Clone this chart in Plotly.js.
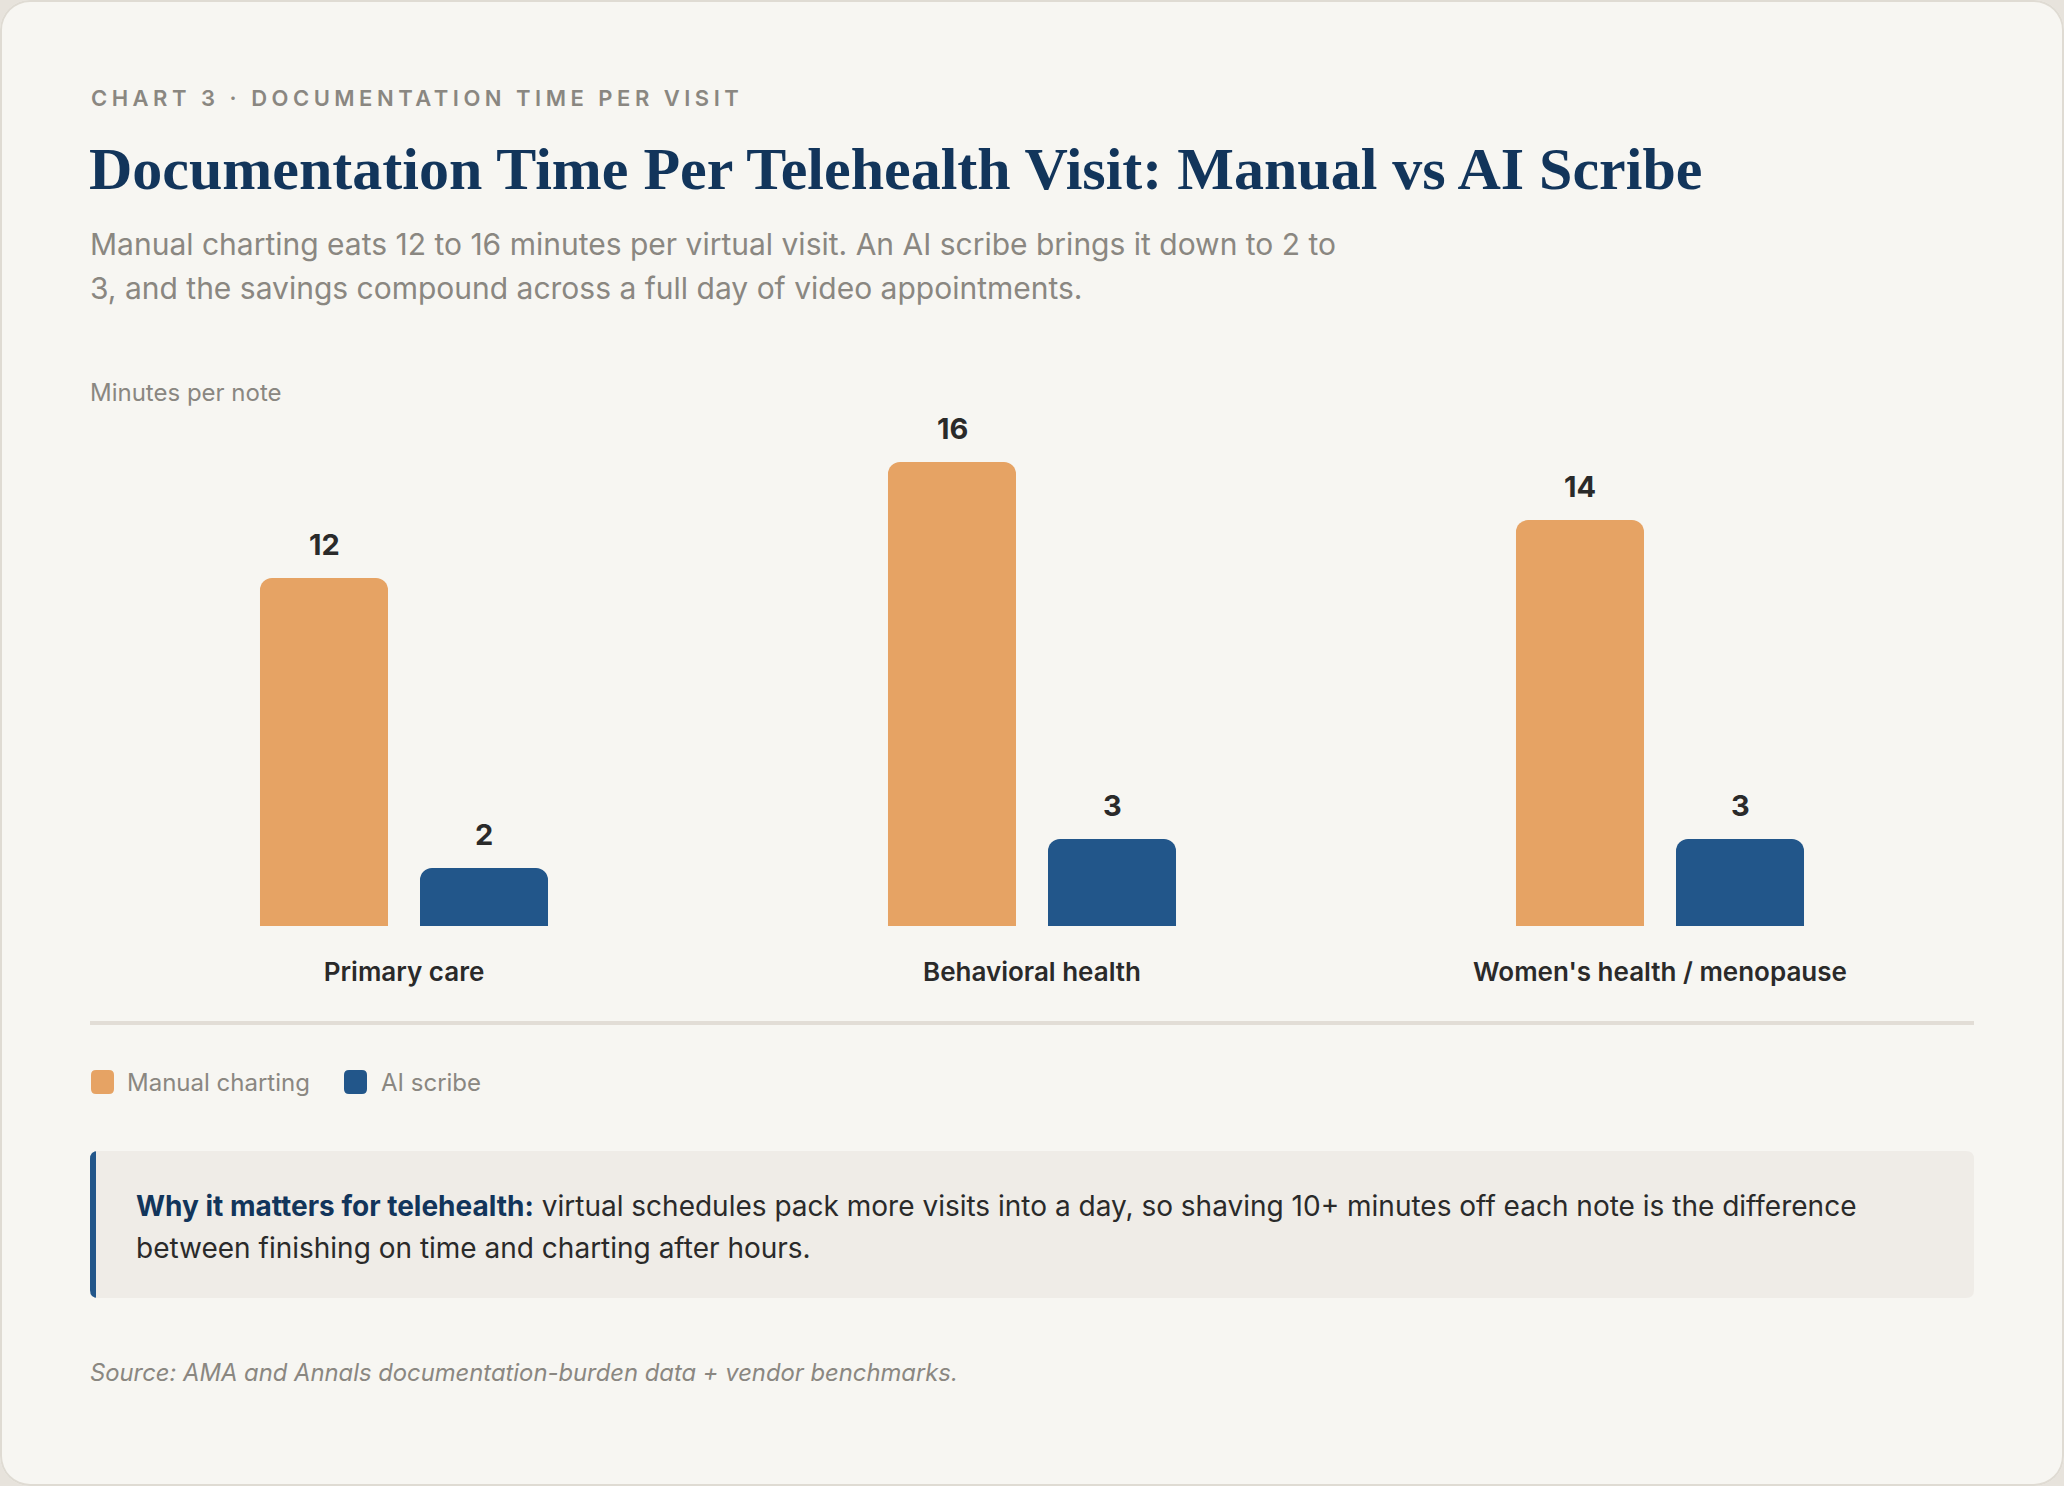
<!DOCTYPE html>
<html>
<head>
<meta charset="utf-8">
<script src="https://cdn.plot.ly/plotly-3.0.1.min.js"></script>
<style>
  html, body { margin: 0; padding: 0; background: #e7e3dc; }
  #chart {
    width: 2064px; height: 1486px;
    border-radius: 30px;
    background: #f7f6f2;
    box-shadow: inset 0 0 0 2px #dfdbd3;
    overflow: hidden;
  }
  /* tracked-out eyebrow line */
  g.annotation[data-index="0"] text { letter-spacing: 4.5px; }
</style>
</head>
<body>
<div id="chart"></div>
<script>
// Documentation minutes per telehealth note, by specialty
const categories = ['Primary care', 'Behavioral health', "Women's health / menopause"];
const manualMinutes = [12, 16, 14];
const aiScribeMinutes = [2, 3, 3];
const seriesNames = ['Manual charting', 'AI scribe'];

const COLORS = { manual: '#e6a364', ai: '#22568a', navy: '#12355b', ink: '#2a2a2a', muted: '#8a8781' };
const SANS = 'Inter, "Noto Sans", sans-serif';

// plot-area geometry (pixels) used to place surrounding text and panels
const PL = 90, PW = 1884, PT = 404, PH = 522;
const fx = p => (p - PL) / PW;
const fy = p => (PT + PH - p) / PH;

// rounded rectangle in paper coordinates from pixel corners and radii
function roundRect(x0, y0, x1, y1, tl, tr, br, bl) {
  const P = (x, y) => fx(x) + ',' + fy(y);
  return 'M' + P(x0 + tl, y0) +
    ' L' + P(x1 - tr, y0) + ' Q' + P(x1, y0) + ' ' + P(x1, y0 + tr) +
    ' L' + P(x1, y1 - br) + ' Q' + P(x1, y1) + ' ' + P(x1 - br, y1) +
    ' L' + P(x0 + bl, y1) + ' Q' + P(x0, y1) + ' ' + P(x0, y1 - bl) +
    ' L' + P(x0, y0 + tl) + ' Q' + P(x0, y0) + ' ' + P(x0 + tl, y0) + ' Z';
}

const traces = [
  {
    type: 'bar', name: seriesNames[0], x: categories, y: manualMinutes,
    marker: { color: COLORS.manual, cornerradius: 12 },
    hoverinfo: 'x+y', showlegend: false
  },
  {
    type: 'bar', name: seriesNames[1], x: categories, y: aiScribeMinutes,
    marker: { color: COLORS.ai, cornerradius: 12 },
    hoverinfo: 'x+y', showlegend: false
  }
];

const txt = (text, xpx, ypx, size, color, extra) => Object.assign({
  text: text, xref: 'paper', yref: 'paper', x: fx(xpx), y: fy(ypx),
  xanchor: 'left', yanchor: 'middle', showarrow: false, align: 'left',
  font: { family: SANS, size: size, color: color }
}, extra || {});

const annotations = [
  txt('CHART 3 · DOCUMENTATION TIME PER VISIT', 89, 98, 22, COLORS.muted,
      { font: { family: SANS, size: 22, color: COLORS.muted, weight: 600 } }),
  txt('Manual charting eats 12 to 16 minutes per virtual visit. An AI scribe brings it down to 2 to', 88, 244, 30, COLORS.muted),
  txt('3, and the savings compound across a full day of video appointments.', 88, 288, 30, COLORS.muted),
  txt('Minutes per note', 88, 392, 24, COLORS.muted),
  txt(seriesNames[0], 125, 1082, 24, COLORS.muted),
  txt(seriesNames[1], 379, 1082, 24, COLORS.muted),
  txt('<b style="color:' + COLORS.navy + '">Why it matters for telehealth:</b> virtual schedules pack more visits into a day, so shaving 10+ minutes off each note is the difference',
      134, 1206, 28, COLORS.ink),
  txt('between finishing on time and charting after hours.', 134, 1248, 28, COLORS.ink),
  txt('<i>Source: AMA and Annals documentation-burden data + vendor benchmarks.</i>', 88, 1372, 23.8, COLORS.muted)
];

// value labels above each bar
const BAR_OFFSET = 80;
categories.forEach((c, i) => {
  [[manualMinutes, -BAR_OFFSET], [aiScribeMinutes, BAR_OFFSET]].forEach(([vals, dx]) => {
    annotations.push({
      x: c, y: vals[i], xref: 'x', yref: 'y', text: String(vals[i]),
      xshift: dx, yshift: 34, xanchor: 'center', yanchor: 'middle', showarrow: false,
      font: { family: SANS, size: 29, color: COLORS.ink, weight: 700 }
    });
  });
});

const shapes = [
  // divider under the chart
  { type: 'line', xref: 'paper', yref: 'paper', x0: 0, x1: 1, y0: fy(1023), y1: fy(1023),
    line: { color: '#e2ddd6', width: 4 }, layer: 'below' },
  // legend swatches
  { type: 'path', xref: 'paper', yref: 'paper', path: roundRect(91, 1070, 114, 1094, 5, 5, 5, 5),
    fillcolor: COLORS.manual, line: { width: 0 } },
  { type: 'path', xref: 'paper', yref: 'paper', path: roundRect(344, 1070, 367, 1094, 5, 5, 5, 5),
    fillcolor: COLORS.ai, line: { width: 0 } },
  // callout panel with accent edge
  { type: 'path', xref: 'paper', yref: 'paper', path: roundRect(90, 1151, 110, 1298, 8, 0, 0, 8),
    fillcolor: COLORS.ai, line: { width: 0 }, layer: 'below' },
  { type: 'path', xref: 'paper', yref: 'paper', path: roundRect(96, 1151, 1974, 1298, 0, 8, 8, 0),
    fillcolor: '#efece7', line: { width: 0 }, layer: 'below' }
];

const layout = {
  width: 2064, height: 1486,
  margin: { l: PL, r: 2064 - PL - PW, t: PT, b: 1486 - PT - PH },
  paper_bgcolor: 'rgba(0,0,0,0)', plot_bgcolor: 'rgba(0,0,0,0)',
  title: {
    text: '<b>Documentation Time Per Telehealth Visit: Manual vs AI Scribe</b>',
    xref: 'container', yref: 'container', x: 89 / 2064, xanchor: 'left',
    y: 1 - 168 / 1486, yanchor: 'middle',
    font: { family: '"Liberation Serif", "DejaVu Serif", serif', size: 60, color: COLORS.navy }
  },
  barmode: 'group', bargap: 0.4904, bargroupgap: 0.2,
  xaxis: {
    type: 'category', range: [-0.5, 2.5], showgrid: false, zeroline: false, showline: false,
    ticks: '', ticklabelstandoff: 28,
    tickfont: { family: SANS, size: 26, color: COLORS.ink, weight: 600 }, fixedrange: true
  },
  yaxis: {
    range: [0, 18], visible: false, showgrid: false, zeroline: false, fixedrange: true
  },
  annotations: annotations,
  shapes: shapes,
  showlegend: false,
  font: { family: SANS }
};

Plotly.newPlot('chart', traces, layout, { displayModeBar: false, staticPlot: true });
</script>
</body>
</html>
